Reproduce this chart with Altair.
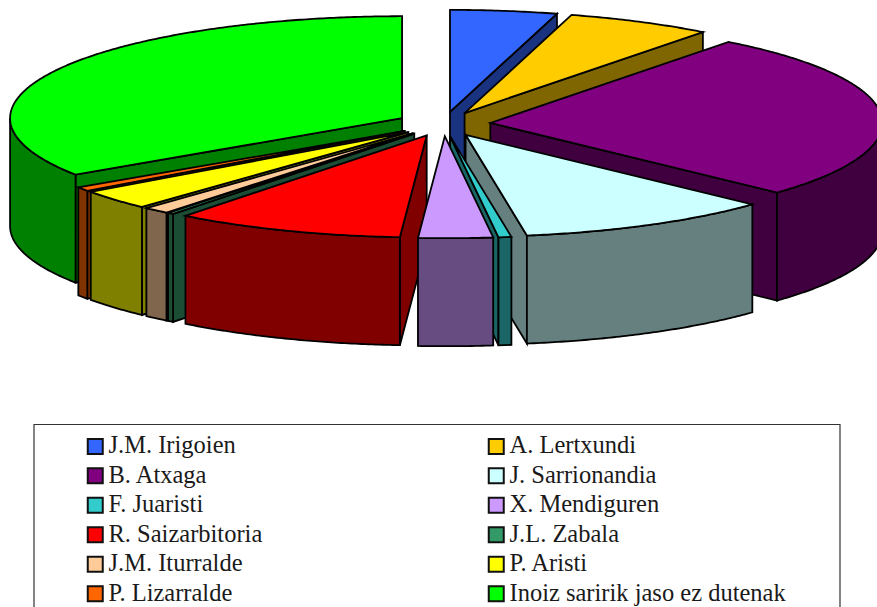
import numpy as np
import altair as alt

# Prize share per author, in percent, clockwise from twelve o'clock
names = ["J.M. Irigoien", "A. Lertxundi", "B. Atxaga", "J. Sarrionandia",
         "F. Juaristi", "X. Mendiguren", "R. Saizarbitoria", "J.L. Zabala",
         "J.M. Iturralde", "P. Aristi", "P. Lizarralde", "Inoiz saririk jaso ez dutenak"]
shares = [4.4, 6.0, 26.54, 10.56, 0.53, 3.06, 9.46, 0.26, 1.08, 3.14, 0.64, 34.33]
top_colors = ["#3366FF", "#FFCC00", "#800080", "#CCFFFF", "#33CCCC", "#CC99FF",
              "#FF0000", "#339966", "#FFCC99", "#FFFF00", "#FF6600", "#00FF00"]
side_colors = ["#1A3380", "#806600", "#400040", "#668080", "#1A6666", "#664C80",
               "#800000", "#1A4D33", "#80664C", "#808000", "#803300", "#008000"]

# Back-to-front painting order of the slices
paint_order = [0, 1, 11, 2, 10, 9, 8, 7, 3, 6, 4, 5]

# Pie geometry in page pixels
CX, CY = 443.5, 124.0
RX, RY = 392.0, 102.0
EXPLODE = 47.0
DEPTH = 108.0


def on_rim(apex, deg):
    t = np.radians(deg)
    return [apex[0] + RX * np.sin(t), apex[1] - RY * np.cos(t)]


def polygon(ring, key):
    ring = [[float(x), float(y)] for x, y in ring]
    return {"type": "Feature", "properties": {"key": key},
            "geometry": {"type": "Polygon", "coordinates": [ring + [ring[0]]]}}


def drop(p):
    return [p[0], p[1] + DEPTH]


edges = np.concatenate([[0], np.cumsum(shares)]) / np.sum(shares) * 360
features = []
for i in paint_order:
    a, b = edges[i], edges[i + 1]
    mid = np.radians((a + b) / 2)
    apex = [CX + EXPLODE * np.sin(mid), CY - EXPLODE * RY / RX * np.cos(mid)]
    side_key = names[i] + " (side)"
    # Radial face that looks towards the viewer
    face = b if b < 180 else (a if a > 180 else None)
    if face is not None:
        rim = on_rim(apex, face)
        features.append(polygon([apex, rim, drop(rim), drop(apex)], side_key))
    # Outer wall along the front half of the rim
    lo, hi = max(a, 90), min(b, 270)
    if lo < hi:
        arc = [on_rim(apex, d) for d in np.linspace(lo, hi, max(3, int(hi - lo) * 2))]
        features.append(polygon(arc + [drop(p) for p in arc[::-1]], side_key))
    # Top face
    arc = [on_rim(apex, d) for d in np.linspace(a, b, max(3, int(b - a) * 2))]
    features.append(polygon([apex] + arc, names[i]))

domain = names + [n + " (side)" for n in names]
colors = top_colors + side_colors

pie = (
    alt.Chart(alt.InlineData(values=features))
    .mark_geoshape(stroke="black", strokeWidth=1.8, strokeJoin="miter")
    .encode(
        fill=alt.Color(
            "properties.key:N",
            scale=alt.Scale(domain=domain, range=colors),
            legend=alt.Legend(
                values=names, title=None, orient="none", legendX=83, legendY=434,
                direction="horizontal", columns=2, columnPadding=221, rowPadding=4.5,
                padding=0, symbolType="square", symbolSize=225, symbolStrokeWidth=2,
                symbolStrokeColor="#111111", symbolOpacity=1, labelOffset=1,
                labelFont="Liberation Serif", labelFontSize=24.5, labelColor="#1a1a1a",
                labelLimit=400,
            ),
        )
    )
    .project(type="identity", scale=1, translate=[0, 0])
)

frame = alt.Chart(alt.Data(values=[{"box": 1}])).mark_rect(
    fill="white", stroke="#333333", strokeWidth=1.2
).encode(x=alt.value(34), x2=alt.value(840), y=alt.value(424.5), y2=alt.value(640))

chart = alt.layer(frame, pie).properties(
    width=877, height=607, padding=0, autosize=alt.AutoSizeParams(type="none")
).configure_view(stroke=None)

chart.save("out.html", embed_options={"renderer": "svg", "actions": False})
